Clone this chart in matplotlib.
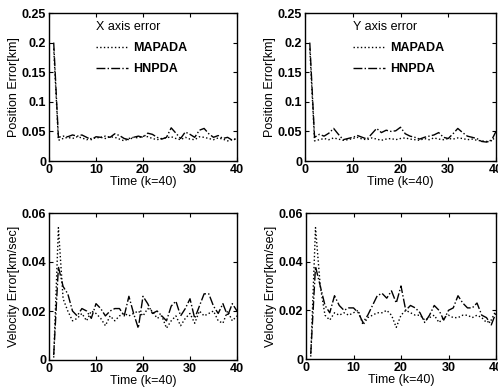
import matplotlib.pyplot as plt
from matplotlib.ticker import FormatStrFormatter

plt.rcParams['font.family'] = 'Liberation Sans'
plt.rcParams['font.weight'] = 'bold'
plt.rcParams['font.size'] = 9

k = list(range(1, 41))

# position error, X axis
pos_x_mapada = [0.19, 0.035, 0.038, 0.040, 0.038, 0.041, 0.039, 0.036, 0.038, 0.039,
                0.040, 0.038, 0.041, 0.040, 0.037, 0.034, 0.038, 0.040, 0.039, 0.042,
                0.041, 0.038, 0.036, 0.038, 0.039, 0.041, 0.038, 0.036, 0.040, 0.037,
                0.036, 0.041, 0.040, 0.038, 0.036, 0.039, 0.037, 0.034, 0.036, 0.038]
pos_x_hnpda = [0.20, 0.040, 0.042, 0.041, 0.044, 0.042, 0.044, 0.040, 0.036, 0.041,
               0.040, 0.042, 0.040, 0.046, 0.043, 0.038, 0.036, 0.040, 0.042, 0.040,
               0.047, 0.045, 0.040, 0.037, 0.040, 0.056, 0.047, 0.038, 0.049, 0.045,
               0.040, 0.052, 0.055, 0.046, 0.040, 0.043, 0.038, 0.040, 0.035, 0.038]

# position error, Y axis
pos_y_mapada = [0.19, 0.034, 0.036, 0.038, 0.036, 0.039, 0.037, 0.035, 0.036, 0.038,
                0.040, 0.037, 0.036, 0.039, 0.037, 0.035, 0.037, 0.038, 0.036, 0.038,
                0.039, 0.037, 0.036, 0.035, 0.038, 0.036, 0.039, 0.037, 0.036, 0.038,
                0.037, 0.039, 0.038, 0.036, 0.037, 0.035, 0.034, 0.033, 0.035, 0.040]
pos_y_hnpda = [0.20, 0.040, 0.045, 0.042, 0.047, 0.055, 0.045, 0.036, 0.038, 0.040,
               0.043, 0.040, 0.037, 0.046, 0.055, 0.048, 0.052, 0.050, 0.051, 0.057,
               0.046, 0.042, 0.040, 0.037, 0.040, 0.042, 0.044, 0.048, 0.040, 0.038,
               0.046, 0.055, 0.048, 0.042, 0.040, 0.038, 0.033, 0.032, 0.034, 0.050]

# velocity error, X axis
vel_x_mapada = [0.001, 0.054, 0.025, 0.020, 0.016, 0.017, 0.019, 0.016, 0.020, 0.019,
                0.017, 0.014, 0.018, 0.016, 0.018, 0.019, 0.018, 0.019, 0.020, 0.018,
                0.021, 0.020, 0.017, 0.018, 0.013, 0.016, 0.018, 0.014, 0.017, 0.019,
                0.015, 0.020, 0.018, 0.019, 0.020, 0.016, 0.015, 0.020, 0.016, 0.018]
vel_x_hnpda = [0.002, 0.038, 0.030, 0.027, 0.020, 0.018, 0.021, 0.020, 0.017, 0.023,
               0.021, 0.018, 0.020, 0.021, 0.021, 0.018, 0.026, 0.019, 0.013, 0.026,
               0.023, 0.019, 0.020, 0.018, 0.016, 0.022, 0.024, 0.018, 0.021, 0.025,
               0.017, 0.022, 0.027, 0.027, 0.022, 0.019, 0.023, 0.018, 0.023, 0.020]

# velocity error, Y axis
vel_y_mapada = [0.001, 0.054, 0.030, 0.018, 0.016, 0.019, 0.018, 0.019, 0.018, 0.019,
                0.020, 0.014, 0.017, 0.018, 0.019, 0.019, 0.020, 0.018, 0.013, 0.018,
                0.020, 0.019, 0.018, 0.018, 0.016, 0.017, 0.018, 0.015, 0.017, 0.018,
                0.017, 0.017, 0.018, 0.018, 0.017, 0.018, 0.017, 0.015, 0.016, 0.020]
vel_y_hnpda = [0.002, 0.038, 0.030, 0.022, 0.019, 0.026, 0.022, 0.020, 0.021, 0.021,
               0.019, 0.015, 0.018, 0.022, 0.026, 0.027, 0.025, 0.028, 0.023, 0.030,
               0.020, 0.022, 0.021, 0.019, 0.015, 0.018, 0.022, 0.020, 0.016, 0.020,
               0.021, 0.026, 0.023, 0.021, 0.021, 0.023, 0.018, 0.017, 0.014, 0.019]

pos_ticks = [0, 0.05, 0.1, 0.15, 0.2, 0.25]
vel_ticks = [0, 0.02, 0.04, 0.06]

W, H = 498, 387
fig = plt.figure(figsize=(W / 100, H / 100), dpi=100)


def px_axes(left, right, top, bottom):
    return fig.add_axes([left / W, (H - bottom) / H, (right - left) / W, (bottom - top) / H])


def style(ax, ymax, yticks, ylabel):
    ax.set_xlim(0, 40)
    ax.set_ylim(0, ymax)
    ax.set_xticks([0, 10, 20, 30, 40])
    ax.set_yticks(yticks)
    ax.yaxis.set_major_formatter(FormatStrFormatter('%g'))
    ax.tick_params(direction='in', top=True, right=True, length=3, pad=2, labelsize=9)
    ax.set_xlabel('Time (k=40)', fontsize=9, labelpad=0)
    ax.set_ylabel(ylabel, fontsize=9, labelpad=1)
    for s in ax.spines.values():
        s.set_linewidth(1.0)


panels = [
    ((49, 237, 13, 161), pos_x_mapada, pos_x_hnpda, 0.25, pos_ticks, 'Position Error[km]', 'X axis error'),
    ((305, 496, 13, 161), pos_y_mapada, pos_y_hnpda, 0.25, pos_ticks, 'Position Error[km]', 'Y axis error'),
    ((49, 237, 213, 360), vel_x_mapada, vel_x_hnpda, 0.06, vel_ticks, 'Velocity Error[km/sec]', None),
    ((306, 496, 213, 359), vel_y_mapada, vel_y_hnpda, 0.06, vel_ticks, 'Velocity Error[km/sec]', None),
]

for box, mapada, hnpda, ymax, yticks, ylabel, title in panels:
    ax = px_axes(*box)
    ax.plot(k, mapada, color='k', linestyle=':', linewidth=1.0, label='MAPADA')
    ax.plot(k, hnpda, color='k', linestyle='-.', linewidth=1.0, label='HNPDA')
    style(ax, ymax, yticks, ylabel)
    if title:
        leg = ax.legend(title=title, frameon=False, loc='upper left',
                        bbox_to_anchor=(0.21, 1.0), handlelength=2.6,
                        handletextpad=0.4, fontsize=9, labelspacing=0.75,
                        borderaxespad=0.2,
                        title_fontproperties={'size': 9, 'weight': 'normal'})
        leg._legend_box.align = 'left'

fig.savefig('out.png', dpi=100)
